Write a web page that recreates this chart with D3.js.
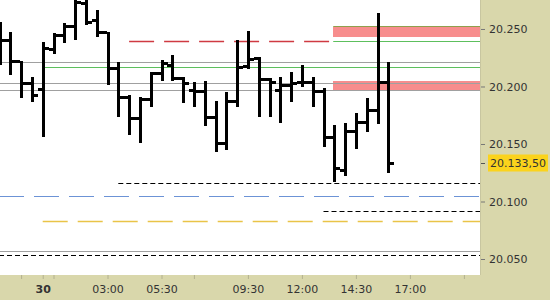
<!DOCTYPE html>
<html>
<head>
<meta charset="utf-8">
<script src="https://cdn.jsdelivr.net/npm/d3@7"></script>
<style>
  body { margin: 0; background: #fff; }
  text { font-family: "DejaVu Sans", Verdana, sans-serif; font-size: 11px; fill: #333; }
</style>
</head>
<body>
<script>
// 30 minute bars, time in hours from midnight of day 30
var barHours = [-2, -1.5, -1, -0.5, 0, 0.5, 1, 1.5, 2, 2.5, 3, 3.5, 4, 4.5, 5, 5.5, 6, 6.5, 7, 7.5,
    8, 8.5, 9, 9.5, 10, 10.5, 11, 11.5, 12, 12.5, 13, 13.5, 14, 14.5, 15, 15.5, 16];
var opens = [20249.1, 20240.4, 20222.2, 20203.0, 20197.8, 20232.6, 20244.8, 20252.6, 20272.6, 20257.8,
    20247.4, 20216.1, 20190.9, 20172.6, 20189.1, 20211.7, 20218.7, 20207.4, 20197.0, 20196.1,
    20173.5, 20150.9, 20187.4, 20217.8, 20224.8, 20206.5, 20197.0, 20201.3, 20203.9, 20203.9,
    20196.1, 20156.1, 20127.4, 20161.3, 20169.1, 20179.6, 20203.9];
var highs = [20256.1, 20247.4, 20222.2, 20208.3, 20238.7, 20246.5, 20255.2, 20282.0, 20282.0, 20266.5,
    20247.4, 20221.3, 20192.6, 20190.9, 20212.6, 20223.0, 20227.4, 20208.3, 20203.9, 20204.8,
    20187.4, 20195.2, 20240.4, 20248.3, 20225.7, 20207.4, 20208.3, 20212.6, 20218.7, 20208.3,
    20198.7, 20166.5, 20168.3, 20177.0, 20190.0, 20263.9, 20221.3];
var lows = [20218.7, 20210.0, 20190.0, 20186.5, 20156.1, 20228.3, 20237.8, 20240.4, 20253.5, 20243.0,
    20201.3, 20173.5, 20157.8, 20150.9, 20182.2, 20204.8, 20204.8, 20185.7, 20182.2, 20165.7,
    20143.0, 20144.8, 20182.2, 20215.2, 20173.5, 20173.5, 20168.3, 20186.5, 20199.6, 20182.2,
    20147.4, 20117.0, 20122.2, 20145.7, 20160.4, 20167.4, 20124.8];
var closes = [20240.4, 20222.2, 20203.0, 20192.6, 20233.5, 20244.8, 20252.6, 20273.5, 20256.1, 20247.4,
    20216.1, 20190.9, 20172.6, 20189.1, 20211.7, 20220.4, 20207.4, 20203.0, 20196.1, 20173.5,
    20150.9, 20187.4, 20217.0, 20223.9, 20206.5, 20203.9, 20201.3, 20203.0, 20203.9, 20196.1,
    20156.1, 20129.1, 20161.3, 20169.1, 20179.6, 20203.9, 20133.5];

var lastPrice = 20133.5;
var lastPriceLabel = "20.133,50";

// price axis
var priceTicks = [20050, 20100, 20150, 20200, 20250];
var priceTickLabels = ["20.050", "20.100", "20.150", "20.200", "20.250"];

// time axis
var timeTicks = [-1, 0, 0.5, 3, 5.5, 7, 9.5, 12, 14.5, 17, 19.5];
var timeTickLabels = ["", "30", "", "03:00", "05:30", "", "09:30", "12:00", "14:30", "17:00", ""];

// horizontal levels: price, start hour (null = from left edge)
var levelPrices = [20221.3, 20203.0, 20197.0, 20217.0, 20239.6, 20252.6, 20239.6, 20116.0, 20104.8, 20091.7, 20083.0, 20057.0, 20053.2];
var levelStarts = [null, null, null, 0, 13.45, 13.45, 4, 3.5, null, 13, 0, null, null];
var levelEnds = [null, null, null, null, null, null, 13.3, null, null, null, null, null, null];
var levelKinds = ["gray", "gray", "gray", "green", "green", "olive", "red", "black", "blue", "black", "yellow", "gray", "black"];

// zones
var zoneTops = [20251.7, 20204.8];
var zoneBottoms = [20243.0, 20196.1];
var zoneStarts = [13.45, 13.45];

window.onload = function () {

    var W = 550, H = 300;
    var plotW = 480, plotH = 275;

    var x = d3.scaleLinear().domain([-1.977, 20.245]).range([0, plotW]);
    var y = d3.scaleLinear().domain([20036.1, 20275.2]).range([plotH, 0]);

    var styles = {
        gray: { stroke: "#a0a0a0", dash: null, width: 1 },
        green: { stroke: "#5dbf5d", dash: null, width: 1 },
        olive: { stroke: "#8f9f4c", dash: null, width: 1 },
        red: { stroke: "#cf3a42", dash: "25,10", width: 1.4 },
        black: { stroke: "#000", dash: "5,3", width: 1 },
        blue: { stroke: "#6c93d6", dash: "25,10", width: 1.2 },
        yellow: { stroke: "#e9c448", dash: "25,10", width: 1.4 }
    };

    var svg = d3.select("body")
        .append("svg")
        .attr("width", W)
        .attr("height", H);

    svg.append("defs").append("clipPath")
        .attr("id", "plotclip")
        .append("rect")
        .attr("width", plotW)
        .attr("height", plotH);

    svg.append("rect")
        .attr("width", plotW)
        .attr("height", plotH)
        .attr("fill", "#fff");

    var plot = svg.append("g").attr("clip-path", "url(#plotclip)");

    // pink zones
    plot.selectAll(".zone")
        .data(zoneTops)
        .enter().append("rect")
        .attr("x", function (d, i) { return Math.round(x(zoneStarts[i])); })
        .attr("y", function (d) { return Math.round(y(d)); })
        .attr("width", function (d, i) { return plotW - Math.round(x(zoneStarts[i])); })
        .attr("height", function (d, i) { return Math.round(y(zoneBottoms[i]) - y(d)); })
        .attr("fill", "#f78d8d");

    // levels
    plot.selectAll(".level")
        .data(levelPrices)
        .enter().append("line")
        .attr("x1", function (d, i) { return levelStarts[i] === null ? -1 : x(levelStarts[i]); })
        .attr("x2", function (d, i) { return levelEnds[i] === null ? plotW : x(levelEnds[i]); })
        .attr("y1", function (d) { return Math.round(y(d)) + 0.5; })
        .attr("y2", function (d) { return Math.round(y(d)) + 0.5; })
        .attr("stroke", function (d, i) { return styles[levelKinds[i]].stroke; })
        .attr("stroke-width", function (d, i) { return styles[levelKinds[i]].width; })
        .attr("stroke-dasharray", function (d, i) { return styles[levelKinds[i]].dash; });

    // bars
    var bars = plot.selectAll(".bar")
        .data(barHours)
        .enter().append("g")
        .attr("shape-rendering", "crispEdges");

    bars.append("rect")
        .attr("x", function (d) { return Math.round(x(d)) - 1; })
        .attr("y", function (d, i) { return Math.round(y(highs[i])); })
        .attr("width", 3)
        .attr("height", function (d, i) { return Math.round(y(lows[i]) - y(highs[i])); })
        .attr("fill", "#000");

    bars.append("rect")
        .attr("x", function (d) { return Math.round(x(d)) - 5; })
        .attr("y", function (d, i) { return Math.round(y(opens[i])) - 1; })
        .attr("width", 4)
        .attr("height", 3)
        .attr("fill", "#000");

    bars.append("rect")
        .attr("x", function (d) { return Math.round(x(d)) + 2; })
        .attr("y", function (d, i) { return Math.round(y(closes[i])) - 1; })
        .attr("width", 4)
        .attr("height", 3)
        .attr("fill", "#000");

    // axis panels
    svg.append("rect")
        .attr("x", plotW)
        .attr("y", 0)
        .attr("width", W - plotW)
        .attr("height", H)
        .attr("fill", "#d9d7ab");

    svg.append("rect")
        .attr("x", 0)
        .attr("y", plotH)
        .attr("width", plotW)
        .attr("height", H - plotH)
        .attr("fill", "#d9d7ab");

    svg.append("line")
        .attr("x1", plotW + 0.5).attr("x2", plotW + 0.5)
        .attr("y1", 0).attr("y2", plotH)
        .attr("stroke", "#c8c6a0");

    // y axis on the right
    var yAxis = d3.axisRight(y)
        .tickValues(priceTicks)
        .tickFormat(function (d, i) { return priceTickLabels[i]; })
        .tickSize(4)
        .tickPadding(4);

    var gy = svg.append("g")
        .attr("transform", "translate(" + (plotW + 1) + ",0)")
        .call(yAxis);
    gy.select(".domain").remove();
    gy.selectAll(".tick line").attr("stroke", "#777");
    gy.selectAll(".tick text").style("font-family", "DejaVu Sans").style("font-size", "11px").attr("fill", "#3a3a3a");

    // last price label
    var lp = svg.append("g").attr("transform", "translate(0," + Math.round(y(lastPrice)) + ")");
    lp.append("rect")
        .attr("x", 488)
        .attr("y", -8.5)
        .attr("width", 60)
        .attr("height", 17)
        .attr("fill", "#fbd31c");
    lp.append("line")
        .attr("x1", 481).attr("x2", 485)
        .attr("y1", 0.5).attr("y2", 0.5)
        .attr("stroke", "#555");
    lp.append("text")
        .attr("x", 490)
        .attr("dy", "0.35em")
        .text(lastPriceLabel);

    // x axis at the bottom
    var xAxis = d3.axisBottom(x)
        .tickValues(timeTicks)
        .tickFormat(function (d, i) { return timeTickLabels[i]; })
        .tickSize(4)
        .tickPadding(6);

    var gx = svg.append("g")
        .attr("transform", "translate(0," + plotH + ")")
        .call(xAxis);
    gx.select(".domain").remove();
    gx.selectAll(".tick line").attr("stroke", "#b3b190");
    gx.selectAll(".tick text")
        .style("font-family", "DejaVu Sans")
        .style("font-size", "11px")
        .attr("fill", "#3a3a3a")
        .style("font-weight", function (d, i) { return timeTickLabels[i] === "30" ? "bold" : "normal"; });
};
</script>
</body>
</html>
